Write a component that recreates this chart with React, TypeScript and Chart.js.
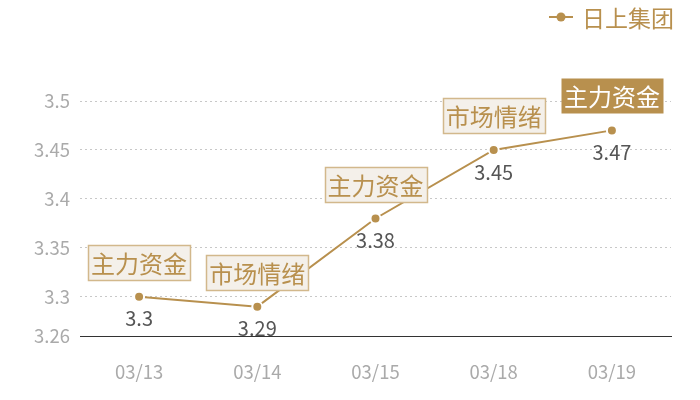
import { useEffect, useRef } from "react"
import { Chart, registerables, type ChartConfiguration, type Plugin } from "chart.js"

Chart.register(...registerables)

const dates = ["03/13", "03/14", "03/15", "03/18", "03/19"]
const prices = [3.3, 3.29, 3.38, 3.45, 3.47]
const tags = ["主力资金", "市场情绪", "主力资金", "市场情绪", "主力资金"]
const highlighted = [false, false, false, false, true]
const yTicks = [3.26, 3.3, 3.35, 3.4, 3.45, 3.5]
const seriesName = "日上集团"

const gold = "#b8904e"
const font = "'Noto Sans CJK SC', 'Noto Sans', sans-serif"

// value under each point + tag box above it
const tagPlugin: Plugin = {
  id: "tags",
  afterDatasetsDraw(chart) {
    const ctx = chart.ctx
    const meta = chart.getDatasetMeta(0)
    ctx.save()
    meta.data.forEach((pt, i) => {
      const { x, y } = pt.getProps(["x", "y"], true)
      ctx.font = `20px ${font}`
      ctx.fillStyle = "#555"
      ctx.textAlign = "center"
      ctx.textBaseline = "middle"
      ctx.fillText(String(prices[i]), x, y + 22)

      ctx.font = `24px ${font}`
      const w = ctx.measureText(tags[i]).width + 6
      const h = 35
      const bx = Math.round(x - w / 2) + 0.5
      const by = Math.round(y - 17 - h) + 0.5
      if (highlighted[i]) {
        ctx.fillStyle = gold
        ctx.fillRect(bx, by, w, h)
        ctx.fillStyle = "#fff"
      } else {
        ctx.fillStyle = "#f4f0ea"
        ctx.fillRect(bx, by, w, h)
        ctx.strokeStyle = "#d2b88c"
        ctx.lineWidth = 1.5
        ctx.strokeRect(bx, by, w, h)
        ctx.fillStyle = gold
      }
      ctx.fillText(tags[i], x, by + h / 2 + 1)
    })
    ctx.restore()
  },
  afterDraw(chart) {
    const ctx = chart.ctx
    ctx.save()
    ctx.strokeStyle = gold
    ctx.lineWidth = 2
    ctx.beginPath()
    ctx.moveTo(549, 17)
    ctx.lineTo(573, 17)
    ctx.stroke()
    ctx.fillStyle = gold
    ctx.beginPath()
    ctx.arc(561, 17, 4.5, 0, Math.PI * 2)
    ctx.fill()
    ctx.font = `23px ${font}`
    ctx.textAlign = "left"
    ctx.textBaseline = "middle"
    ctx.fillText(seriesName, 582, 18)
    ctx.restore()
  },
}

export default function App() {
  const canvasRef = useRef<HTMLCanvasElement | null>(null)
  const chartRef = useRef<Chart | null>(null)

  useEffect(() => {
    document.body.style.margin = "0"
    if (!canvasRef.current) return
    if (chartRef.current) chartRef.current.destroy()

    const config: ChartConfiguration = {
      type: "line",
      data: {
        labels: dates,
        datasets: [
          {
            label: seriesName,
            data: prices,
            borderColor: gold,
            borderWidth: 2,
            pointRadius: 5,
            pointBackgroundColor: gold,
            pointBorderColor: "#fff",
            pointBorderWidth: 2,
            tension: 0,
          },
        ],
      },
      options: {
        animation: false,
        responsive: false,
        layout: { padding: { top: 101, right: 29, left: 0, bottom: 0 } },
        plugins: { legend: { display: false }, tooltip: { enabled: false } },
        scales: {
          x: {
            offset: true,
            grid: { display: false, drawTicks: false },
            border: { color: "#333", width: 1 },
            ticks: { color: "#aaa", font: { size: 18.5, family: font }, padding: 25 },
            afterFit: (s) => {
              s.height = 64
            },
          },
          y: {
            min: 3.26,
            max: 3.5,
            afterBuildTicks: (s) => {
              s.ticks = yTicks.map((v) => ({ value: v }))
            },
            afterFit: (s) => {
              s.width = 80
            },
            border: { display: false, dash: [2, 3] },
            grid: {
              drawTicks: false,
              color: (c) => (c.tick && c.tick.value === 3.26 ? "rgba(0,0,0,0)" : "#c8c8c8"),
            },
            ticks: {
              color: "#aaa",
              padding: 10,
              font: { size: 18.5, family: font },
              callback: (v) => String(Number(Number(v).toFixed(2))),
            },
          },
        },
      },
      plugins: [tagPlugin],
    }

    chartRef.current = new Chart(canvasRef.current, config)
    return () => {
      chartRef.current?.destroy()
      chartRef.current = null
    }
  }, [])

  return <canvas ref={canvasRef} width={700} height={400} />
}
